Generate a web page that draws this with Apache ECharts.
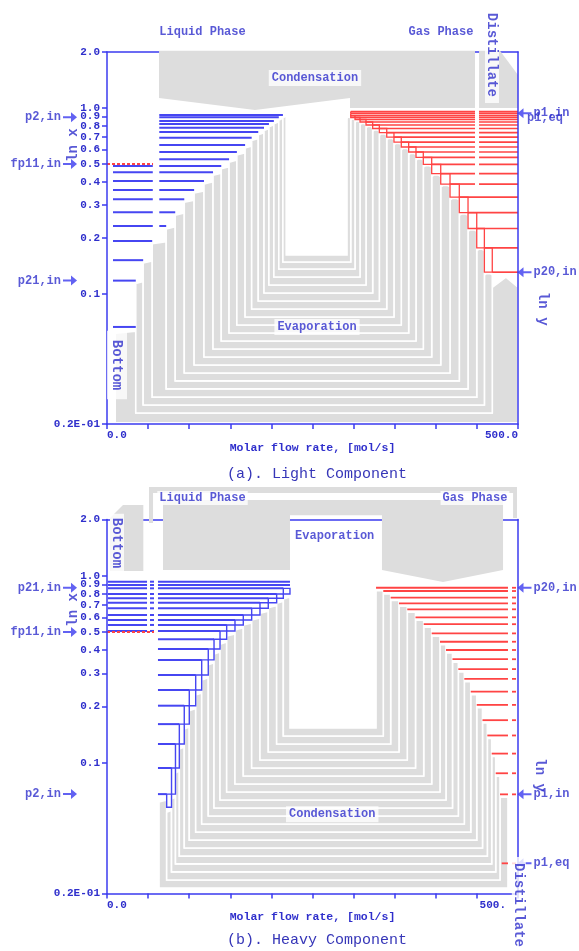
<!DOCTYPE html>
<html><head><meta charset="utf-8">
<script src="https://cdn.jsdelivr.net/npm/echarts@6/dist/echarts.min.js"></script>
<style>html,body{margin:0;padding:0;background:#fff}#c{width:579px;height:951px}</style>
</head><body><div id="c"></div>
<script>
// ================= DATA =================
// shared axis ticks (log scale of composition)
const yTickValues = [2.0, 1.0, 0.9, 0.8, 0.7, 0.6, 0.5, 0.4, 0.3, 0.2, 0.1, 0.02];
const yTickLabels = ['2.0', '1.0', '0.9', '0.8', '0.7', '0.6', '0.5', '0.4', '0.3', '0.2', '0.1', '0.2E-01'];
const xTickValues = [0, 500];
const xTickLabelsA = ['0.0', '500.0'];
const xTickLabelsB = ['0.0', '500.'];
const feedComp = 0.5;   // fp11,in

// ---- (a) Light component ----
// liquid phase: stage composition x and flow where the stage column starts
const aLiqComp = [0.917, 0.891, 0.851, 0.820, 0.784, 0.743, 0.692, 0.632, 0.580, 0.530, 0.488, 0.451, 0.405, 0.362, 0.323, 0.275, 0.232, 0.193, 0.152, 0.118];
const aLiqFlow = [214, 209, 203, 197, 191, 184, 176, 168, 158, 148.5, 139, 129, 118, 106, 94, 83, 72, 55, 44, 35];
const aBottomComp = 0.0665;
const aBottomFlow = 10;
const aInnerLiqFlow = 218;
// gas phase: stage composition y and flow where the stage line starts
const aVapComp = [0.957, 0.936, 0.909, 0.889, 0.867, 0.841, 0.810, 0.776, 0.738, 0.698, 0.656, 0.617, 0.580, 0.542, 0.498, 0.444, 0.390, 0.332, 0.274, 0.225, 0.177, 0.131];
const aVapFlow = [296.5, 296.5, 296.5, 301.7, 307.8, 315.1, 323.2, 331.3, 340.3, 349.1, 358.0, 367.0, 375.9, 384.8, 395.0, 406.0, 417.3, 428.6, 439.2, 449.8, 459.1, 468.7];
const aInnerVapFlow = 292;
const aOuterFlow = 500;
// bottom edges of the nested flow bands (outer -> inner)
const aBandBottom = [0.0203, 0.0229, 0.0253, 0.0279, 0.0309, 0.0341, 0.0376, 0.0415, 0.0458, 0.0506, 0.0559, 0.0617, 0.0681, 0.0752, 0.0830, 0.0917, 0.1012, 0.1118, 0.1234, 0.1362, 0.1486, 0.1621];
// condensation arrow and distillate block outlines [flow, composition]
const aCondArrow = [[63.3, 2.03], [447.7, 2.03], [447.7, 1.0], [295.6, 1.0], [295.6, 1.132], [180, 0.975], [63.3, 1.132]];
const aDistBlock = [[452.6, 2.03], [478.1, 2.03], [500, 1.505], [500, 1.0], [452.6, 1.0]];

// ---- (b) Heavy component ----
const bLiqComp = [0.930, 0.893, 0.857, 0.799, 0.758, 0.718, 0.670, 0.617, 0.580, 0.546, 0.507, 0.458, 0.406, 0.355, 0.295, 0.245, 0.202, 0.161, 0.126, 0.0938, 0.068];
const bLiqFlow = [222.6, 222.6, 214.5, 206.4, 196.2, 186.1, 176.0, 165.8, 155.7, 145.6, 137.5, 130.2, 123.2, 115.2, 107.9, 100.1, 94.0, 88.0, 83.3, 78.5, 72.6];
const bOuterLiqFlow = 63.3;
const bVapComp = [0.863, 0.829, 0.765, 0.712, 0.662, 0.600, 0.551, 0.492, 0.444, 0.401, 0.358, 0.317, 0.281, 0.240, 0.204, 0.169, 0.140, 0.112, 0.0879, 0.0678, 0.029];
const bVapFlow = [327.3, 336.1, 345.1, 355.2, 365.3, 375.3, 385.3, 395.0, 405.1, 412.4, 420.3, 427.4, 434.7, 442.5, 449.8, 456.8, 462.7, 468.0, 472.9, 478.1, 480.2];
const bOuterVapFlow = 487.8;
const bBandBottom = [0.0214, 0.0236, 0.0261, 0.0288, 0.0317, 0.0350, 0.0386, 0.0426, 0.0471, 0.0519, 0.0573, 0.0633, 0.0698, 0.0770, 0.0850, 0.0938, 0.1035, 0.1142, 0.1260, 0.1390, 0.1534];
const bFrame = [[51.1, 2.985], [498.8, 2.985], [498.8, 2.04], [494, 2.04], [494, 2.77], [56, 2.77], [56, 1.914], [51.1, 1.914]];
const bEvapArrow = [[68.1, 2.54], [481.8, 2.54], [481.8, 1.074], [408.8, 0.926], [334.5, 1.074], [334.5, 2.11], [222.6, 2.11], [222.6, 1.074], [68.1, 1.074]];
const bBottomBlock = [[3.65, 2.04], [19.5, 2.39], [44.2, 2.39], [44.2, 1.061], [3.65, 1.061]];

// ================= STYLE =================
const FONT = "'Liberation Mono','Courier New',monospace";
const C_AXIS = '#3b3bef', C_TEXT = '#2f2fcc', C_BLUE = '#4646f2', C_RED = '#ff4444', C_GRAY = '#dddddd';
const L = Math.log10;
const ARROW = 'path://M0,4L8,4L8,0L14,5L8,10L8,6L0,6Z';

function poly(pts, fill, stroke, lw) { return {kind: 'poly', pts, fill, stroke, lw}; }
function seg(x1, y1, x2, y2, color, lw, dash) { return {kind: 'seg', pts: [[x1, y1], [x2, y2]], color, lw, dash}; }
function rect(x1, y1, x2, y2, color, lw) { return {kind: 'rect', pts: [[x1, y1], [x2, y2]], color, lw}; }
// one nested flow band: left column, bottom strip, right column
function bandPoly(Lo, Li, Tl, Ro, Ri, Tr, Bo, Bi, peak, roundRight) {
  const pts = [[Lo, Tl * 0.975], [Lo, Bo], [Ro, Bo], [Ro, Tr]];
  if (peak) pts.push(peak);
  else if (roundRight) {
    const w = Ro - Ri;
    pts.push([Ro - w * 0.25, Tr * 1.018], [Ri + w * 0.25, Tr * 1.018]);
  }
  pts.push([Ri, Tr], [Ri, Bi], [Li, Bi], [Li, Tl]);
  return poly(pts, C_GRAY, '#ffffff', 1.6);
}

function shapeSeries(gi, items, z) {
  return {
    type: 'custom', xAxisIndex: gi, yAxisIndex: gi, z: z, silent: true, animation: false, clip: false,
    data: items.map(it => [it.pts[0][0], L(it.pts[0][1])]),
    renderItem: function (params, api) {
      const it = items[params.dataIndex];
      const P = it.pts.map(p => api.coord([p[0], L(p[1])]));
      if (it.kind === 'poly') {
        return {type: 'polygon', shape: {points: P}, style: {fill: it.fill, stroke: it.stroke || null, lineWidth: it.lw || 0}};
      }
      if (it.kind === 'seg') {
        return {type: 'line', shape: {x1: P[0][0], y1: P[0][1], x2: P[1][0], y2: P[1][1]},
          style: {stroke: it.color, lineWidth: it.lw, lineDash: it.dash || null, fill: null}};
      }
      const x = Math.min(P[0][0], P[1][0]), y = Math.min(P[0][1], P[1][1]);
      return {type: 'rect', shape: {x: x, y: y, width: Math.abs(P[1][0] - P[0][0]), height: Math.abs(P[1][1] - P[0][1])},
        style: {fill: null, stroke: it.color, lineWidth: it.lw}};
    }
  };
}

function annoSeries(gi, items) {
  return {
    type: 'scatter', xAxisIndex: gi, yAxisIndex: gi, z: 10, silent: true, animation: false, clip: false,
    data: items.map(a => ({
      value: [a.x, L(a.y)],
      symbol: a.arrow ? ARROW : 'rect',
      symbolSize: a.arrow ? [14, 10] : 1,
      symbolRotate: a.arrow === 'left' ? 180 : 0,
      itemStyle: {color: a.arrow ? C_AXIS : 'rgba(0,0,0,0)'},
      label: {
        show: true, formatter: a.text, position: a.pos || 'inside', distance: 2,
        rotate: a.rotate || 0, color: C_TEXT, fontFamily: FONT, fontWeight: 'bold',
        fontSize: a.size || 12, backgroundColor: a.bg ? '#ffffff' : 'transparent', padding: a.pad || 0
      }
    }))
  };
}

// ================= GEOMETRY (a) =================
const aGray = [];
{
  const leftB = [aBottomFlow].concat(aLiqFlow.slice().reverse(), [aInnerLiqFlow]);
  const leftTop = [aBottomComp * 0.95].concat(aLiqComp.slice().reverse().map(v => v * 0.99));
  const rightB = [aOuterFlow].concat(aVapFlow.slice().reverse().slice(0, 20), [aInnerVapFlow]);
  const n = aVapComp.length;
  for (let j = 0; j < 21; j++) {
    const feed = aVapComp[n - 1];
    const Tr = j === 0 ? feed * 0.83 : aVapComp[n - j] * 0.965;
    const peak = j === 0 ? [(rightB[0] + rightB[1]) / 2 + 1, feed * 0.94] : null;
    aGray.push(bandPoly(leftB[j], leftB[j + 1], leftTop[j], rightB[j], rightB[j + 1], Tr, aBandBottom[j], aBandBottom[j + 1], peak, true));
  }
  aGray.push(poly(aCondArrow, C_GRAY), poly(aDistBlock, C_GRAY));
}
const aLines = [];
{
  const LIQ0 = 63.6, LEFT0 = 7.3, LEFT1 = 57.2;
  aLiqComp.forEach((c, s) => {
    const e = aLiqFlow[s];
    if (c >= feedComp) aLines.push(seg(LIQ0, c, e, c, C_BLUE, 2));
    else if (e > LIQ0) { aLines.push(seg(LEFT0, c, LEFT1 - 1.5, c, C_BLUE, 2)); aLines.push(seg(LIQ0, c, e, c, C_BLUE, 2)); }
    else aLines.push(seg(LEFT0, c, e, c, C_BLUE, 2));
  });
  aLines.push(seg(LEFT0, aBottomComp, aLiqFlow[aLiqFlow.length - 1], aBottomComp, C_BLUE, 2));
  aLines.push(seg(0, feedComp, 56, feedComp, C_RED, 2, [3, 2]));
  aVapComp.forEach((c, k) => {
    const s = aVapFlow[k];
    if (c > 0.38) { aLines.push(seg(s, c, 447.7, c, C_RED, 1.7)); aLines.push(seg(452.6, c, aOuterFlow, c, C_RED, 1.7)); }
    else aLines.push(seg(s, c, aOuterFlow, c, C_RED, 1.7));
    if (k < aVapComp.length - 1) aLines.push(rect(s, c, aVapFlow[k + 1], aVapComp[k + 1], C_RED, 1.3));
  });
}

// ================= GEOMETRY (b) =================
const bGray = [];
const bBoxBottom = k => k < bLiqComp.length - 1 ? bLiqComp[k + 1] : bLiqComp[k] * 0.85;
{
  const nl = bLiqComp.length;
  const leftB = [bOuterLiqFlow].concat(bLiqFlow.slice(1).reverse());
  const rightB = [bOuterVapFlow].concat(bVapFlow.slice(0, 20).reverse());
  for (let j = 0; j < 20; j++) {
    const Tl = j === 0 ? bLiqComp[nl - 1] * 0.93 : bBoxBottom(nl - j) * 0.965;
    const Tr = bVapComp[19 - j] * 0.965;
    bGray.push(bandPoly(leftB[j], leftB[j + 1], Tl, rightB[j], rightB[j + 1], Tr, bBandBottom[j], bBandBottom[j + 1], null, false));
  }
  bGray.push(poly(bFrame, C_GRAY), poly(bEvapArrow, C_GRAY), poly(bBottomBlock, C_GRAY));
}
const bLines = [];
{
  bLiqComp.forEach((c, k) => {
    const e = bLiqFlow[k];
    bLines.push(seg(62, c, e, c, C_BLUE, 2));
    if (c >= feedComp) { bLines.push(seg(1, c, 48.7, c, C_BLUE, 2)); bLines.push(seg(52.3, c, 57.2, c, C_BLUE, 2)); }
    if (k >= 1 && e < bLiqFlow[k - 1]) bLines.push(rect(e, c, bLiqFlow[k - 1], bBoxBottom(k), C_BLUE, 1.4));
  });
  bLines.push(seg(0, feedComp, 57.2, feedComp, C_RED, 2, [3, 2]));
  bVapComp.forEach((c, k) => {
    bLines.push(seg(bVapFlow[k], c, bOuterVapFlow, c, C_RED, 1.8));
    bLines.push(seg(492.7, c, 497.6, c, C_RED, 1.8));
  });
}

// ================= ANNOTATIONS =================
const aAnno = [
  {text: 'Liquid Phase', x: 116.2, y: 2.56},
  {text: 'Gas Phase', x: 406.3, y: 2.56},
  {text: 'Condensation', x: 253, y: 1.449, bg: true, pad: [2, 3]},
  {text: 'Evaporation', x: 255.5, y: 0.0664, bg: true, pad: [2, 3]},
  {text: 'Distillate', x: 468.4, y: 1.93, rotate: -90, size: 14, bg: true, pad: [0, 6, 0, 6]},
  {text: 'Bottom', x: 12.2, y: 0.0415, rotate: -90, size: 14, bg: true, pad: [3, 9, 3, 9]},
  {text: 'ln x', x: -41.4, y: 0.632, rotate: 90, size: 14},
  {text: 'ln y', x: 530, y: 0.0833, rotate: -90, size: 14},
  {text: 'p2,in', x: -45, y: aLiqComp[1], arrow: 'right', pos: 'left'},
  {text: 'fp11,in', x: -45, y: feedComp, arrow: 'right', pos: 'left'},
  {text: 'p21,in', x: -45, y: aLiqComp[19], arrow: 'right', pos: 'left'},
  {text: 'p1,in', x: 507.9, y: aVapComp[1], arrow: 'left', pos: 'right'},
  {text: 'p1,eq', x: 507.9, y: aVapComp[3], pos: 'right'},
  {text: 'p20,in', x: 507.9, y: aVapComp[21], arrow: 'left', pos: 'right'}
];
const bAnno = [
  {text: 'Liquid Phase', x: 116.2, y: 2.61, bg: true, pad: [1, 2]},
  {text: 'Gas Phase', x: 447.7, y: 2.61, bg: true, pad: [1, 2]},
  {text: 'Evaporation', x: 277, y: 1.64, bg: true, pad: [2, 3]},
  {text: 'Condensation', x: 274, y: 0.053, bg: true, pad: [2, 3]},
  {text: 'Bottom', x: 12.2, y: 1.498, rotate: -90, size: 14, bg: true, pad: [0, 4, 0, 4]},
  {text: 'Distillate', x: 501, y: 0.01736, rotate: -90, size: 14, bg: true, pad: [0, 6, 0, 6]},
  {text: 'ln x', x: -41.4, y: 0.657, rotate: 90, size: 14},
  {text: 'ln y', x: 526.8, y: 0.0859, rotate: -90, size: 14},
  {text: 'p21,in', x: -45, y: 0.862, arrow: 'right', pos: 'left'},
  {text: 'fp11,in', x: -45, y: feedComp, arrow: 'right', pos: 'left'},
  {text: 'p2,in', x: -45, y: bLiqComp[20], arrow: 'right', pos: 'left'},
  {text: 'p20,in', x: 507.9, y: bVapComp[0], arrow: 'left', pos: 'right'},
  {text: 'p1,in', x: 507.9, y: bVapComp[19], arrow: 'left', pos: 'right'},
  {text: 'p1,eq', x: 507.9, y: bVapComp[20], arrow: 'left', pos: 'right'}
];

// ================= AXES =================
function yLabel(v) {
  for (let i = 0; i < yTickValues.length; i++) if (Math.abs(L(yTickValues[i]) - v) < 1e-6) return yTickLabels[i];
  return '';
}
function yAxisLeft(gi) {
  return {
    gridIndex: gi, type: 'value', min: L(0.02), max: L(2), position: 'left', z: 4,
    axisLine: {show: true, onZero: false, lineStyle: {color: C_AXIS, width: 1.5}},
    axisTick: {show: true, customValues: yTickValues.map(L), length: 5, lineStyle: {color: C_AXIS, width: 1.5}},
    axisLabel: {customValues: yTickValues.map(L), formatter: yLabel, color: C_TEXT, fontFamily: FONT, fontWeight: 'bold', fontSize: 11, margin: 7},
    splitLine: {show: false}
  };
}
function yAxisRight(gi) {
  return {
    gridIndex: gi, type: 'value', min: L(0.02), max: L(2), position: 'right', z: 4,
    axisLine: {show: true, onZero: false, lineStyle: {color: C_AXIS, width: 1.5}},
    axisTick: {show: false}, axisLabel: {show: false}, splitLine: {show: false}
  };
}
function xAxisBottom(gi, labels) {
  return {
    gridIndex: gi, type: 'value', min: 0, max: 500, interval: 50, position: 'bottom', z: 4,
    name: 'Molar flow rate, [mol/s]', nameLocation: 'middle', nameGap: 14,
    nameTextStyle: {color: C_TEXT, fontFamily: FONT, fontWeight: 'bold', fontSize: 11.5},
    axisLine: {onZero: false, lineStyle: {color: C_AXIS, width: 1.5}},
    axisTick: {length: 5, lineStyle: {color: C_AXIS, width: 1.5}},
    axisLabel: {customValues: xTickValues, formatter: v => labels[xTickValues.indexOf(v)] || '',
      alignMinLabel: 'left', alignMaxLabel: 'right', color: C_TEXT, fontFamily: FONT, fontWeight: 'bold', fontSize: 11, margin: 6,
      padding: gi === 1 ? [0, 12, 0, 0] : 0},
    splitLine: {show: false}
  };
}
function xAxisTop(gi) {
  return {
    gridIndex: gi, type: 'value', min: 0, max: 500, position: 'top', z: 0,
    axisLine: {show: true, onZero: false, lineStyle: {color: C_AXIS, width: 1.5}},
    axisTick: {show: false}, axisLabel: {show: false}, splitLine: {show: false}
  };
}

const option = {
  backgroundColor: '#ffffff',
  animation: false,
  title: [
    {text: '(a). Light Component', left: 222, top: 462, textStyle: {color: '#3636b8', fontFamily: FONT, fontWeight: 'normal', fontSize: 15}},
    {text: '(b). Heavy Component', left: 222, top: 928, textStyle: {color: '#3636b8', fontFamily: FONT, fontWeight: 'normal', fontSize: 15}}
  ],
  grid: [
    {left: 107, right: 61, top: 52, height: 372, outerBoundsMode: 'none'},
    {left: 107, right: 61, top: 519.5, height: 374, outerBoundsMode: 'none'}
  ],
  xAxis: [xAxisBottom(0, xTickLabelsA), xAxisBottom(1, xTickLabelsB), xAxisTop(0), xAxisTop(1)],
  yAxis: [yAxisLeft(0), yAxisLeft(1), yAxisRight(0), yAxisRight(1)],
  series: [
    shapeSeries(0, aGray, 2),
    shapeSeries(0, aLines, 3),
    annoSeries(0, aAnno),
    shapeSeries(1, bGray, 2),
    shapeSeries(1, bLines, 3),
    annoSeries(1, bAnno)
  ]
};
const chart = echarts.init(document.getElementById('c'), null, {renderer: 'canvas'});
chart.setOption(option);
</script>
</body></html>
